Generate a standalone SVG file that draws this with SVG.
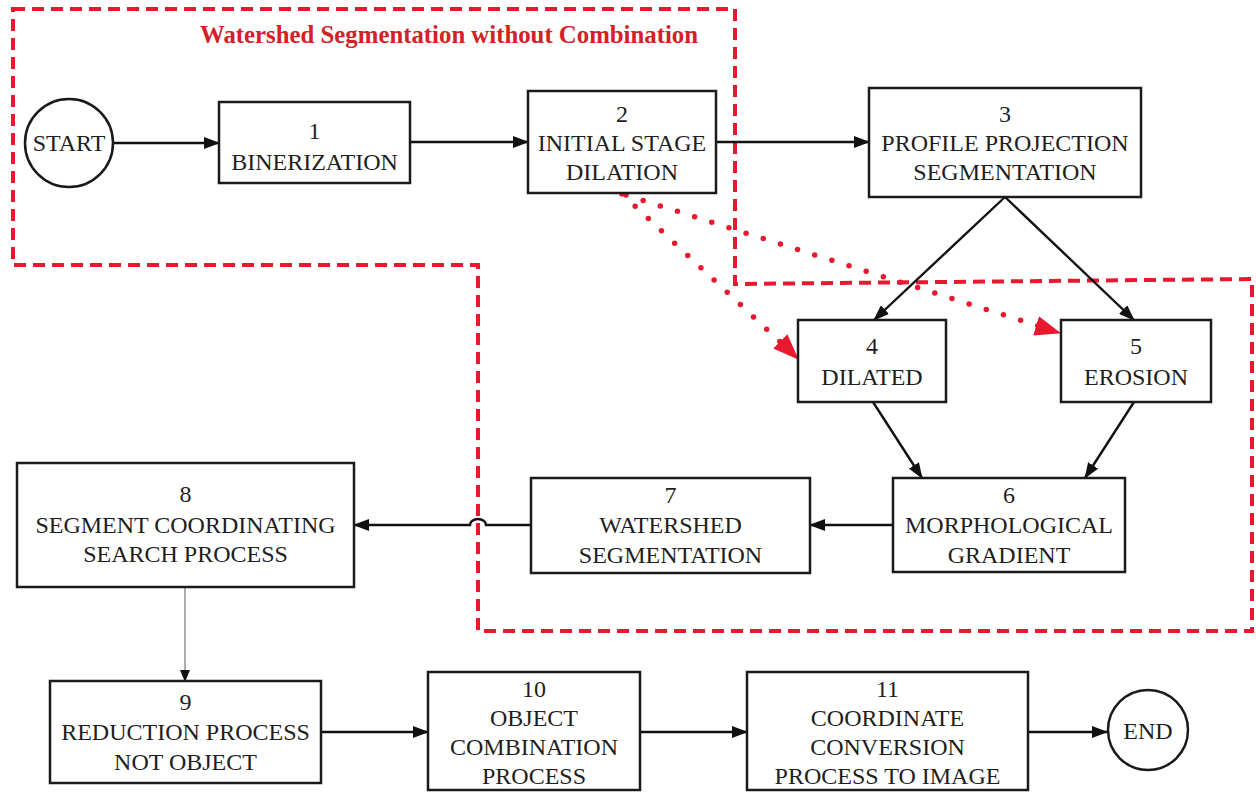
<svg xmlns="http://www.w3.org/2000/svg" width="1256" height="793" viewBox="0 0 1256 793">
<defs>
<style>
.bx{fill:#fff;stroke:#1a1a1a;stroke-width:2.5}
.t{font-family:"Liberation Serif","Times New Roman",serif;font-size:24px;fill:#1e1e1e;text-anchor:middle}
.c{fill:none;stroke:#111;stroke-width:2.4}
.red{fill:none;stroke:#e8182e;stroke-width:4;stroke-dasharray:12 7}
.dot{fill:none;stroke:#e8182e;stroke-width:5.5;stroke-linecap:round;stroke-dasharray:0 18}
.title{font-family:"Liberation Serif","Times New Roman",serif;font-size:24.8px;font-weight:bold;fill:#d42027}
</style>
<marker id="ah" markerWidth="16" markerHeight="12" refX="15" refY="6" orient="auto" markerUnits="userSpaceOnUse"><path d="M0,0 L16,6 L0,12 z" fill="#111"/></marker>
<marker id="ahs" markerWidth="12" markerHeight="10" refX="11" refY="5" orient="auto" markerUnits="userSpaceOnUse"><path d="M0,0 L12,5 L0,10 z" fill="#111"/></marker>
<marker id="rah" markerWidth="26" markerHeight="20" refX="25" refY="10" orient="auto" markerUnits="userSpaceOnUse"><path d="M0,0 L26,10 L0,20 z" fill="#e8182e"/></marker>
</defs>
<rect width="1256" height="793" fill="#fff"/>

<g id="boundary">
<path class="red" d="M13,9 H735 V284 L1252,279 V631 H478 V265 H13 Z"/>
<text class="title" x="200" y="43">Watershed Segmentation without Combination</text>
</g>

<g id="connectors">
<path class="c" d="M113,143 H219" marker-end="url(#ah)"/>
<path class="c" d="M410,142 H528" marker-end="url(#ah)"/>
<path class="c" d="M716,142 H869" marker-end="url(#ah)"/>
<path class="c" d="M1005,197 L874,320" marker-end="url(#ah)"/>
<path class="c" d="M1005,197 L1134,320" marker-end="url(#ah)"/>
<path class="c" d="M873,402 L922,478" marker-end="url(#ah)"/>
<path class="c" d="M1134,402 L1085,478" marker-end="url(#ah)"/>
<path class="c" d="M893,525 H810" marker-end="url(#ah)"/>
<path class="c" d="M531,525 H486 A8,6 0 0 0 470,525 H354" marker-end="url(#ah)"/>
<path d="M185,587 V681" fill="none" stroke="#888" stroke-width="1.4" marker-end="url(#ahs)"/>
<path class="c" d="M321,732 H428" marker-end="url(#ah)"/>
<path class="c" d="M640,732 H747" marker-end="url(#ah)"/>
<path class="c" d="M1028,732 H1107" marker-end="url(#ah)"/>
<path class="dot" d="M622,194 L790,351"/>
<path class="dot" d="M626,195 L1048,329"/>
<path d="M784,345 L798,359" fill="none" stroke="#e8182e" stroke-width="1" marker-end="url(#rah)"/>
<path d="M1040,327 L1060,333" fill="none" stroke="#e8182e" stroke-width="1" marker-end="url(#rah)"/>
</g>

<g id="start">
<circle cx="69" cy="143" r="44" fill="#fff" stroke="#1a1a1a" stroke-width="2.5"/>
<text class="t" x="69" y="151">START</text>
</g>
<g id="n1">
<rect class="bx" x="219" y="102" width="191" height="81"/>
<text class="t" x="314.5" y="139">1</text>
<text class="t" x="314.5" y="170">BINERIZATION</text>
</g>
<g id="n2">
<rect class="bx" x="528" y="91" width="188" height="102"/>
<text class="t" x="622" y="122">2</text>
<text class="t" x="622" y="151">INITIAL STAGE</text>
<text class="t" x="622" y="180">DILATION</text>
</g>
<g id="n3">
<rect class="bx" x="869" y="88" width="272" height="109"/>
<text class="t" x="1005" y="122">3</text>
<text class="t" x="1005" y="151">PROFILE PROJECTION</text>
<text class="t" x="1005" y="180">SEGMENTATION</text>
</g>
<g id="n4">
<rect class="bx" x="798" y="320" width="148" height="82"/>
<text class="t" x="872" y="354">4</text>
<text class="t" x="872" y="385">DILATED</text>
</g>
<g id="n5">
<rect class="bx" x="1061" y="320" width="150" height="82"/>
<text class="t" x="1136" y="354">5</text>
<text class="t" x="1136" y="385">EROSION</text>
</g>
<g id="n6">
<rect class="bx" x="893" y="478" width="232" height="94"/>
<text class="t" x="1009" y="503">6</text>
<text class="t" x="1009" y="533">MORPHOLOGICAL</text>
<text class="t" x="1009" y="563">GRADIENT</text>
</g>
<g id="n7">
<rect class="bx" x="531" y="478" width="279" height="95"/>
<text class="t" x="670.5" y="503">7</text>
<text class="t" x="670.5" y="533">WATERSHED</text>
<text class="t" x="670.5" y="563">SEGMENTATION</text>
</g>
<g id="n8">
<rect class="bx" x="17" y="463" width="337" height="124"/>
<text class="t" x="185.5" y="502">8</text>
<text class="t" x="185.5" y="533">SEGMENT COORDINATING</text>
<text class="t" x="185.5" y="562">SEARCH PROCESS</text>
</g>
<g id="n9">
<rect class="bx" x="50" y="681" width="271" height="102"/>
<text class="t" x="185.5" y="710">9</text>
<text class="t" x="185.5" y="740">REDUCTION PROCESS</text>
<text class="t" x="185.5" y="770">NOT OBJECT</text>
</g>
<g id="n10">
<rect class="bx" x="428" y="672" width="212" height="118"/>
<text class="t" x="534" y="697">10</text>
<text class="t" x="534" y="726">OBJECT</text>
<text class="t" x="534" y="755">COMBINATION</text>
<text class="t" x="534" y="784">PROCESS</text>
</g>
<g id="n11">
<rect class="bx" x="747" y="672" width="281" height="118"/>
<text class="t" x="887.5" y="697">11</text>
<text class="t" x="887.5" y="726">COORDINATE</text>
<text class="t" x="887.5" y="755">CONVERSION</text>
<text class="t" x="887.5" y="784">PROCESS TO IMAGE</text>
</g>
<g id="end">
<circle cx="1148" cy="730" r="40" fill="#fff" stroke="#1a1a1a" stroke-width="2.5"/>
<text class="t" x="1148" y="739">END</text>
</g>
</svg>
